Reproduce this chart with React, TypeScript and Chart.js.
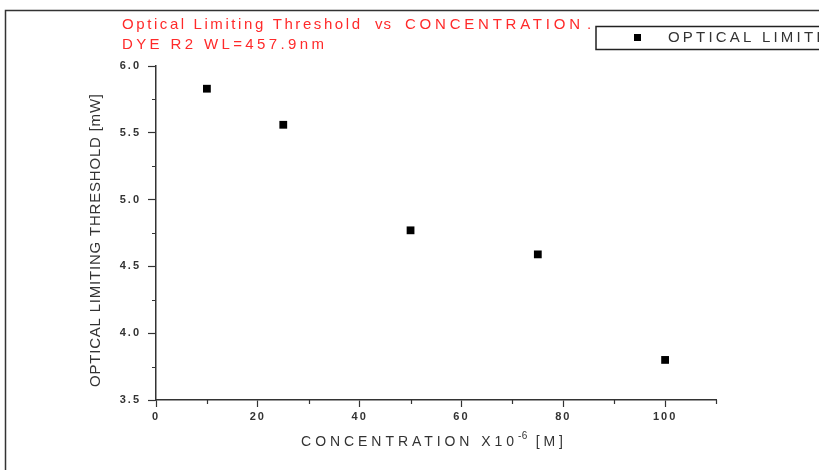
import { useEffect, useRef } from "react";
import { Chart, registerables } from "chart.js";

Chart.register(...registerables);

// Measured optical limiting threshold against dye concentration
const concentration = [10, 25, 50, 75, 100];
const threshold = [5.83, 5.56, 4.77, 4.59, 3.8];

const titleWords = ["Optical Limiting Threshold", "vs", "CONCENTRATION", "."];
const subtitle = "DYE R2 WL=457.9nm";
const xTitleMain = "CONCENTRATION X10";
const xTitleSup = "-6";
const xTitleEnd = " [M]";
const yTitle = "OPTICAL LIMITING THRESHOLD [mW]";
const legendLabel = "OPTICAL LIMITING THRESHOLD";

const xMajorLabels = [0, 20, 40, 60, 80, 100];
const xMinorTicks = [10, 30, 50, 70, 90, 110];
const yMinorTicks = [3.75, 4.25, 4.75, 5.25, 5.75];

const FONT = "'Liberation Sans', Arial, sans-serif";
const INK = "#333";

// letter spacing that spreads text over a given width
function spacingFor(ctx: CanvasRenderingContext2D, text: string, width: number) {
  (ctx as any).letterSpacing = "0px";
  const w = ctx.measureText(text).width;
  return Math.max(0, (width - w) / Math.max(1, text.length - 1));
}

function fillSpread(ctx: CanvasRenderingContext2D, text: string, x0: number, x1: number, y: number) {
  const s = spacingFor(ctx, text, x1 - x0);
  (ctx as any).letterSpacing = `${s}px`;
  ctx.fillText(text, x0, y);
}

const wideTicks = {
  id: "wideTicks",
  beforeDraw(chart: any) {
    (chart.ctx as any).letterSpacing = "2px";
  },
};

const decorations = {
  id: "decorations",
  afterDraw(chart: any) {
    const ctx = chart.ctx as CanvasRenderingContext2D;
    const xs = chart.scales.x;
    const ys = chart.scales.y;
    const area = chart.chartArea;
    ctx.save();

    // outer frame (top and left edges visible)
    ctx.strokeStyle = INK;
    ctx.lineWidth = 1.5;
    ctx.beginPath();
    ctx.moveTo(5.5, 470);
    ctx.lineTo(5.5, 10.5);
    ctx.lineTo(819, 10.5);
    ctx.stroke();

    // minor ticks
    ctx.lineWidth = 1.2;
    ctx.beginPath();
    for (const v of xMinorTicks) {
      const px = Math.round(xs.getPixelForValue(v)) + 0.5;
      ctx.moveTo(px, area.bottom);
      ctx.lineTo(px, area.bottom + 4);
    }
    for (const v of yMinorTicks) {
      const py = Math.round(ys.getPixelForValue(v)) + 0.5;
      ctx.moveTo(area.left, py);
      ctx.lineTo(area.left - 4, py);
    }
    ctx.stroke();

    // red heading
    ctx.fillStyle = "#ff2a2a";
    ctx.font = `15px ${FONT}`;
    ctx.textBaseline = "middle";
    ctx.textAlign = "left";
    fillSpread(ctx, titleWords[0], 122, 360, 25);
    (ctx as any).letterSpacing = "1px";
    ctx.fillText(titleWords[1], 375, 25);
    fillSpread(ctx, titleWords[2], 405, 580, 25);
    (ctx as any).letterSpacing = "0px";
    ctx.fillText(titleWords[3], 587, 25);
    fillSpread(ctx, subtitle, 122, 324, 45);

    // x axis title with superscript
    ctx.fillStyle = INK;
    ctx.font = `14px ${FONT}`;
    const sp = spacingFor(ctx, xTitleMain + xTitleEnd, 252);
    (ctx as any).letterSpacing = `${sp}px`;
    const wMain = ctx.measureText(xTitleMain).width;
    const wEnd = ctx.measureText(xTitleEnd).width;
    ctx.font = `10px ${FONT}`;
    (ctx as any).letterSpacing = "0.5px";
    const wSup = ctx.measureText(xTitleSup).width;
    let x0 = 434 - (wMain + wSup + wEnd) / 2;
    ctx.font = `14px ${FONT}`;
    (ctx as any).letterSpacing = `${sp}px`;
    ctx.fillText(xTitleMain, x0, 442);
    x0 += wMain;
    ctx.font = `10px ${FONT}`;
    (ctx as any).letterSpacing = "0.5px";
    ctx.fillText(xTitleSup, x0, 436);
    x0 += wSup;
    ctx.font = `14px ${FONT}`;
    (ctx as any).letterSpacing = `${sp}px`;
    ctx.fillText(xTitleEnd, x0, 442);

    // y axis title
    ctx.save();
    ctx.translate(96, 241);
    ctx.rotate(-Math.PI / 2);
    ctx.textAlign = "left";
    ctx.font = `15px ${FONT}`;
    fillSpread(ctx, yTitle, -146, 147, 0);
    ctx.restore();

    // legend box
    ctx.strokeStyle = "#222";
    ctx.lineWidth = 1.5;
    ctx.strokeRect(596, 26.5, 300, 23);
    ctx.fillStyle = "#000";
    ctx.fillRect(634, 34, 7, 7);
    ctx.fillStyle = INK;
    ctx.font = `15px ${FONT}`;
    (ctx as any).letterSpacing = "3.2px";
    ctx.textAlign = "left";
    ctx.fillText(legendLabel, 668, 38);

    ctx.restore();
    (ctx as any).letterSpacing = "0px";
  },
};

export default function App() {
  const canvasRef = useRef<HTMLCanvasElement>(null);

  useEffect(() => {
    const canvas = canvasRef.current;
    if (!canvas) return;
    const chart = new Chart(canvas, {
      type: "scatter",
      data: {
        datasets: [
          {
            label: legendLabel,
            data: concentration.map((c, i) => ({ x: c, y: threshold[i] })),
            pointStyle: "rect",
            pointRadius: 5.5,
            pointHoverRadius: 5.5,
            backgroundColor: "#000",
            borderColor: "#000",
            borderWidth: 0,
            showLine: false,
          },
        ],
      },
      options: {
        responsive: false,
        animation: false,
        events: [],
        layout: { padding: { left: 0, top: 66, right: 103, bottom: 0 } },
        plugins: {
          legend: { display: false },
          title: { display: false },
          tooltip: { enabled: false },
        },
        scales: {
          x: {
            type: "linear",
            min: 0,
            max: 110,
            afterFit: (scale: any) => {
              scale.height = 70;
            },
            ticks: {
              stepSize: 20,
              includeBounds: false,
              autoSkip: false,
              maxRotation: 0,
              padding: 3,
              color: INK,
              font: { family: FONT, size: 11, weight: "bold" },
              callback: (v: any) => (xMajorLabels.includes(Number(v)) ? String(v) : ""),
            },
            grid: {
              drawOnChartArea: false,
              drawTicks: true,
              tickLength: 7,
              tickColor: INK,
              tickWidth: 1.2,
            },
            border: { display: true, color: INK, width: 1.5 },
          },
          y: {
            type: "linear",
            min: 3.5,
            max: 6.0,
            afterFit: (scale: any) => {
              scale.width = 156;
            },
            ticks: {
              stepSize: 0.5,
              padding: 7,
              color: INK,
              font: { family: FONT, size: 11, weight: "bold" },
              callback: (v: any) => Number(v).toFixed(1),
            },
            grid: {
              drawOnChartArea: false,
              drawTicks: true,
              tickLength: 8,
              tickColor: INK,
              tickWidth: 1.2,
            },
            border: { display: true, color: INK, width: 1.5 },
          },
        },
      },
      plugins: [wideTicks, decorations],
    });
    return () => chart.destroy();
  }, []);

  return (
    <div style={{ position: "fixed", left: 0, top: 0, width: 819, height: 470, background: "#fff" }}>
      <canvas ref={canvasRef} width={819} height={470} style={{ display: "block" }} />
    </div>
  );
}
